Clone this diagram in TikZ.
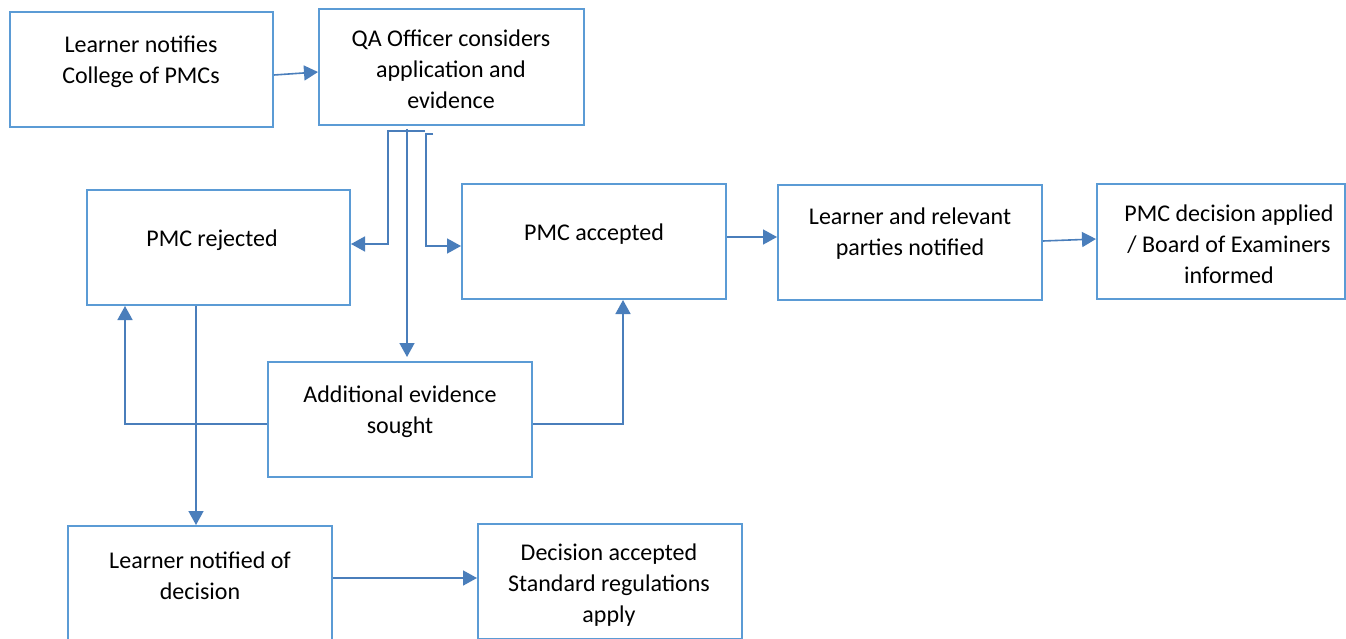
\documentclass[tikz,border=0pt]{standalone}
\usepackage{fontspec}
\setmainfont{Carlito}
\usetikzlibrary{arrows.meta,calc}
\definecolor{boxc}{HTML}{5B9BD5}
\definecolor{linec}{HTML}{4A7EBB}
\begin{document}
\begin{tikzpicture}[x=1pt,y=-1pt,
  box/.style={draw=boxc, line width=2pt, minimum width=264pt, minimum height=115pt, inner sep=0pt},
  txt/.style={align=center, font=\fontsize{24}{31}\selectfont, inner sep=0pt},
  conn/.style={draw=linec, line width=1.6pt},
  arr/.style={conn, -{Triangle[length=14pt,width=15pt]}}]
\clip (0,0) rectangle (1346,639);
\fill[white] (0,0) rectangle (1346,639);
% boxes
\node[box, minimum width=263pt] (b1) at (141.5,69.5) {};
\node[box, minimum width=265pt, minimum height=116pt] (b2) at (451.5,67) {};
\node[box, minimum width=263pt] (b3) at (218.5,247.5) {};
\node[box] (b4) at (594,241.5) {};
\node[box] (b5) at (910,242.5) {};
\node[box, minimum width=248pt] (b6) at (1221,241.5) {};
\node[box] (b7) at (400,419.5) {};
\node[box] (b8) at (200,583.5) {};
\node[box] (b9) at (610,581.5) {};
% texts
\node[txt] (t1) at (141,62) {Learner notifies\\College of PMCs};
\node[txt] (t2) at (451,69) {QA Officer considers\\application and\\evidence};
\node[txt] (t3) at (212,240) {PMC rejected};
\node[txt] (t4) at (594,234) {PMC accepted};
\node[txt] (t5) at (910,234) {Learner and relevant\\parties notified};
\node[txt] (t6) at (1229,244) {PMC decision applied\\/ Board of Examiners\\informed};
\node[txt] (t7) at (400,412) {Additional evidence\\sought};
\node[txt] (t8) at (200,576) {Learner notified of\\decision};
\node[txt] (t9) at (609,585) {Decision accepted\\Standard regulations\\apply};
% junction coordinates
\coordinate (q1) at (425,131);
\coordinate (q2) at (407,129);
\coordinate (q3) at (433,134);
% connectors
\draw[arr] ($(b1.east)+(0,5.5)$) -- ($(b2.west)+(0,5)$);
\draw[arr] (q1) -| (388,244) -- (b3.east |- 0,244);
\draw[arr, shorten >=4pt] (q2) -- (b7.north -| 407,0);
\draw[arr] (q3) -| (426,246) -- (b4.west |- 0,246);
\draw[arr] (b3.south -| 196,0) -- (b8.north -| 196,0);
\draw[arr] (b7.west |- 0,424) -| (b3.south -| 125,0);
\draw[arr] (b7.east |- 0,424) -| (b4.south -| 623,0);
\draw[arr] (b4.east |- 0,237) -- (b5.west |- 0,237);
\draw[arr] (b5.east |- 0,241) -- (b6.west |- 0,239);
\draw[arr] (b8.east |- 0,578) -- (b9.west |- 0,578);
\end{tikzpicture}
\end{document}
